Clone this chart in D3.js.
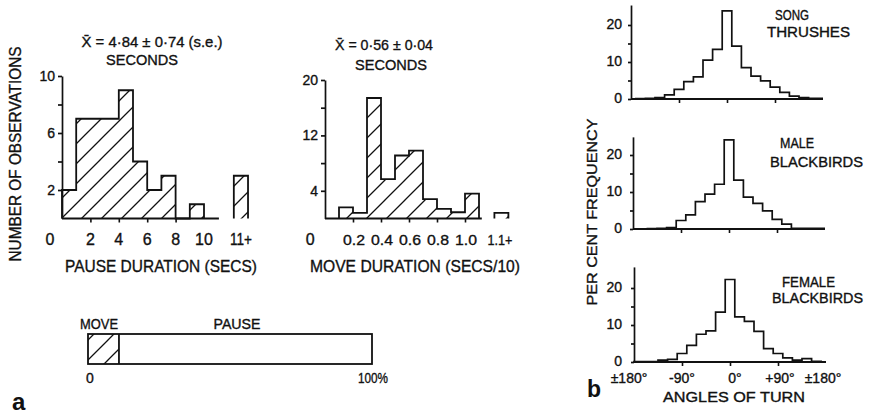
<!DOCTYPE html>
<html lang="en">
<head>
<meta charset="UTF-8">
<title>Move and pause durations, angles of turn</title>
<script src="https://cdn.jsdelivr.net/npm/d3@7/dist/d3.min.js"></script>
<style>
  html, body { margin: 0; padding: 0; background: #fff; }
  svg text { font-family: "Liberation Sans", Arial, sans-serif; fill: #111; stroke: #111; stroke-width: 0.35px; }
</style>
</head>
<body>
<div id="chart"></div>
<script>
// ---- (a) pause durations, 1 s bins ----
const pauseBinStarts = [0, 1, 2, 3, 4, 5, 6, 7, 8, 9];
const pauseCounts = [2, 7, 7, 7, 9, 4, 2, 3, 0, 1];
const pauseOverflow = 3;               // "11+"
const pauseXTicks = [2, 4, 6, 8];
const pauseXLabels = ["2", "4", "6", "8", "10"];
const pauseYTicks = [2, 4, 6, 8, 10];
const pauseYLabels = [2, 6, 10];

// ---- (a) move durations, 0.1 bins ----
const moveBinStarts = [0.1, 0.2, 0.3, 0.4, 0.5, 0.6, 0.7, 0.8, 0.9, 1.0];
const moveCounts = [1.6, 0.8, 17.4, 5.7, 9.1, 9.8, 2.8, 1.4, 0.9, 3.6];
const moveOverflow = 0.8;              // "1.1+"
const moveXTicks = [0.2, 0.4, 0.6, 0.8, 1.0];
const moveXLabels = ["0.2", "0.4", "0.6", "0.8", "1.0"];
const moveYTicks = [4, 8, 12, 16, 20];
const moveYLabels = [4, 12, 20];

// ---- (a) share of time moving (%) ----
const movePercent = 10.9;

// ---- (b) angles of turn, per cent frequency ----
const angleEdges = [-180, -171, -153, -135, -117, -99, -81, -63, -45, -27, -9,
                    9, 27, 45, 63, 81, 99, 117, 135, 153, 171, 180];
const songThrushes    = [0, 0.1, 0.2, 0.4, 1.1, 2.6, 4.7, 6.0, 10.5, 13.4, 23.8,
                         14.3, 8.5, 6.2, 4.9, 3.2, 1.8, 0.8, 0.4, 0.2, 0.2];
const maleBlackbirds  = [0, 0, 0.1, 0.2, 0.4, 2.3, 3.8, 7.4, 9.4, 12.1, 24.1,
                         13.2, 8.6, 6.9, 4.9, 2.6, 1.3, 0.2, 0.2, 0.2, 0.2];
const femaleBlackbirds = [0.1, 0.1, 0.1, 0.5, 0.7, 2.3, 4.5, 7.5, 8.4, 13.5, 22.3,
                          12.2, 11.0, 8.3, 3.6, 2.3, 1.1, 0.5, 0.9, 0.2, 0];
const angleTicks = [-90, 0, 90];
const angleLabelValues = [-180, -90, 0, 90, 180];
const angleLabels = ["±180°", "-90°", "0°", "+90°", "±180°"];
const freqTicks = [0, 5, 10, 15, 20];
const freqLabels = [0, 10, 20];

const W = 871, H = 414, INK = "#111";

const svg = d3.select("#chart").append("svg")
    .attr("width", W).attr("height", H);

// hatch patterns (45 deg "/" lines), offset per panel
const defs = svg.append("defs");
function hatch(id, offset) {
    defs.append("pattern")
        .attr("id", id)
        .attr("patternUnits", "userSpaceOnUse")
        .attr("x", offset).attr("y", 0)
        .attr("width", 20).attr("height", 20)
      .append("path")
        .attr("d", "M-5,5L5,-5M0,20L20,0M15,25L25,15")
        .attr("stroke", INK).attr("stroke-width", 1.3);
}
hatch("hatchP", 0);
hatch("hatchM", 5);
hatch("hatchB", 8);

function label(x, y, txt, opt = {}) {
    const t = svg.append("text")
        .attr("x", x).attr("y", y)
        .attr("text-anchor", opt.anchor || "middle")
        .style("font-size", (opt.size || 14) + "px")
        .text(txt);
    if (opt.weight) t.style("font-weight", opt.weight).style("stroke-width", 0);
    if (opt.len) t.attr("textLength", opt.len).attr("lengthAdjust", "spacingAndGlyphs");
    if (opt.rotate) t.attr("transform", `rotate(${opt.rotate},${x},${y})`);
    return t;
}

// outline points of a step histogram from bin starts + width
function stepPoints(starts, width, counts) {
    const pts = [[starts[0], 0]];
    counts.forEach((c, i) => {
        pts.push([starts[i], c]);
        pts.push([starts[i] + width, c]);
    });
    pts.push([starts[starts.length - 1] + width, 0]);
    return pts;
}

function drawHist(x, y, pts, pattern) {
    const area = d3.area().x(d => x(d[0])).y0(y(0)).y1(d => y(d[1]));
    const line = d3.line().x(d => x(d[0])).y(d => y(d[1]));
    svg.append("path").datum(pts).attr("d", area).attr("fill", `url(#${pattern})`);
    svg.append("path").datum(pts).attr("d", line)
        .attr("fill", "none").attr("stroke", INK).attr("stroke-width", 1.8);
}

function yAxis(x0, y, ticks, size) {
    const g = svg.append("g")
        .attr("transform", `translate(${x0},0)`)
        .call(d3.axisLeft(y).tickValues(ticks).tickSize(size).tickSizeOuter(0).tickFormat(""));
    g.selectAll("path, line").attr("stroke", INK).attr("stroke-width", 1.7);
}

function xTicks(x, y0, ticks, size) {
    const g = svg.append("g")
        .attr("transform", `translate(0,${y0})`)
        .call(d3.axisBottom(x).tickValues(ticks).tickSize(size).tickFormat(""));
    g.select(".domain").remove();
    g.selectAll("line").attr("stroke", INK).attr("stroke-width", 1.6);
}

function baseline(x, y, a, b) {
    svg.append("line")
        .attr("x1", x(a)).attr("x2", x(b))
        .attr("y1", y(0)).attr("y2", y(0))
        .attr("stroke", INK).attr("stroke-width", 1.8);
}

// ================= pause duration histogram =================
const xP = d3.scaleLinear().domain([0, 13]).range([62, 62 + 14.2 * 13]);
const yP = d3.scaleLinear().domain([0, 10]).range([218.5, 76]);

drawHist(xP, yP, stepPoints(pauseBinStarts, 1, pauseCounts), "hatchP");
drawHist(xP, yP, stepPoints([12.1], 1, [pauseOverflow]), "hatchP");
baseline(xP, yP, 0, 11.05);
yAxis(xP(0), yP, pauseYTicks, 4);
xTicks(xP, yP(0), pauseXTicks, 4);

pauseYLabels.forEach(v => label(55, yP(v) + 5, v, { anchor: "end", size: 14 }));
label(xP(-0.85), 245, "0", { size: 16 });
pauseXLabels.forEach(t => label(xP(+t), 245, t, { size: 16 }));
label(xP(12.6), 245, "11+", { size: 16, len: 22 });

label(152, 47, "X\u0304 = 4\u00b784 \u00b1 0\u00b774 (s.e.)", { size: 15, len: 141 });
label(142, 65, "SECONDS", { size: 15, len: 72 });
label(161, 272, "PAUSE DURATION (SECS)", { size: 17, len: 192 });
label(21, 154, "NUMBER OF OBSERVATIONS", { size: 16, len: 215, rotate: -90 });

// ================= move duration histogram =================
const xM = d3.scaleLinear().domain([0, 1.3]).range([325, 325 + 140 * 1.3]);
const yM = d3.scaleLinear().domain([0, 20]).range([218.5, 80]);

drawHist(xM, yM, stepPoints(moveBinStarts, 0.1, moveCounts), "hatchM");
drawHist(xM, yM, stepPoints([1.21], 0.1, [moveOverflow]), "hatchM");
baseline(xM, yM, 0, 1.12);
yAxis(xM(0), yM, moveYTicks, 4);
xTicks(xM, yM(0), moveXTicks, 4);

moveYLabels.forEach(v => label(318, yM(v) + 5, v, { anchor: "end", size: 14 }));
label(xM(-0.105), 245, "0", { size: 16 });
moveXLabels.forEach(t => label(xM(+t) + 1, 245, t, { size: 15, len: 22 }));
label(xM(1.25), 245, "1.1+", { size: 15, len: 25 });

label(384, 50, "X\u0304 = 0\u00b756 \u00b1 0\u00b704", { size: 15, len: 98 });
label(391, 70, "SECONDS", { size: 15, len: 72 });
label(415, 272, "MOVE DURATION (SECS/10)", { size: 17, len: 210 });

// ================= move / pause bar =================
const xB = d3.scaleLinear().domain([0, 100]).range([88, 372]);
svg.append("rect")
    .attr("x", xB(0)).attr("y", 334)
    .attr("width", xB(movePercent) - xB(0)).attr("height", 30)
    .attr("fill", "url(#hatchB)");
svg.append("rect")
    .attr("x", xB(0)).attr("y", 334)
    .attr("width", xB(100) - xB(0)).attr("height", 30)
    .attr("fill", "none").attr("stroke", INK).attr("stroke-width", 1.8);
svg.append("line")
    .attr("x1", xB(movePercent)).attr("x2", xB(movePercent))
    .attr("y1", 334).attr("y2", 364)
    .attr("stroke", INK).attr("stroke-width", 1.8);
label(99, 329, "MOVE", { size: 14, len: 38 });
label(237, 329, "PAUSE", { size: 14, len: 47 });
label(xB(0) + 2, 383, "0", { size: 14 });
label(xB(100) + 1, 383, "100%", { size: 14, len: 30 });
label(12, 410, "a", { size: 24, weight: "bold", anchor: "start" });

// ================= angles of turn =================
const panels = [
    { name: ["SONG", "THRUSHES"], values: songThrushes, base: 99, ymax: 25.4, dx: 0,
      nameX: [775, 767], nameY: [20, 37], nameLen: [34, 83] },
    { name: ["MALE", "BLACKBIRDS"], values: maleBlackbirds, base: 229, ymax: 24.9, dx: 2,
      nameX: [780, 770], nameY: [148, 167], nameLen: [34, 93] },
    { name: ["FEMALE", "BLACKBIRDS"], values: femaleBlackbirds, base: 362, ymax: 25.7, dx: 3,
      nameX: [782, 772], nameY: [287, 303], nameLen: [53, 91] }
];
const angleLabelNudge = [-5, 0, 5, 2, -3];

panels.forEach((p, k) => {
    const x = d3.scaleLinear().domain([-180, 180]).range([631 + p.dx, 823 + p.dx]);
    const y = d3.scaleLinear().domain([0, p.ymax]).range([p.base, p.base - p.ymax * 3.7]);

    const pts = [[angleEdges[0], 0]];
    p.values.forEach((v, i) => {
        pts.push([angleEdges[i], v]);
        pts.push([angleEdges[i + 1], v]);
    });
    svg.append("path").datum(pts)
        .attr("d", d3.line().x(d => x(d[0])).y(d => y(d[1])))
        .attr("fill", "none").attr("stroke", INK).attr("stroke-width", 1.7);

    baseline(x, y, -180, 180);
    yAxis(x(-180), y, freqTicks, 3);
    xTicks(x, y(0), angleTicks, 4);
    freqLabels.forEach(v => label(622, y(v) + 4, v, { anchor: "end", size: 14 }));

    p.name.forEach((n, j) =>
        label(p.nameX[j], p.nameY[j], n, { anchor: "start", size: 14, len: p.nameLen[j] }));

    if (k === 2) {
        angleLabelValues.forEach((v, i) =>
            label(x(v) + angleLabelNudge[i], 383, angleLabels[i], { size: 14 }));
    }
});

label(597, 212, "PER CENT FREQUENCY", { size: 15, len: 187, rotate: -90 });
label(734, 402, "ANGLES OF TURN", { size: 14, len: 142 });
label(587, 397, "b", { size: 23, weight: "bold", anchor: "start" });
</script>
</body>
</html>
